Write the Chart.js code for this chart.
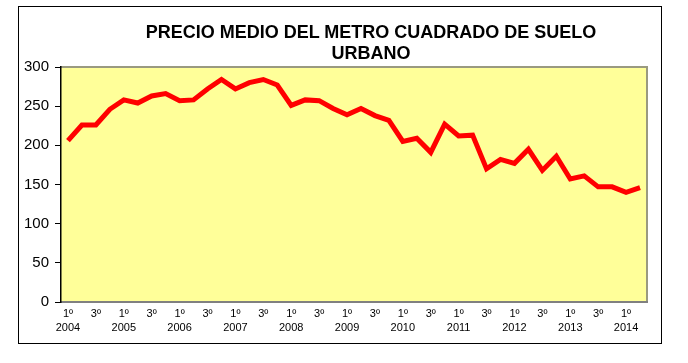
<!DOCTYPE html>
<html>
<head>
<meta charset="utf-8">
<script src="https://cdn.jsdelivr.net/npm/chart.js@4"></script>
<style>
  body { margin: 0; background: #fff; width: 688px; height: 363px; position: relative; overflow: hidden; }
  #frame { position: absolute; left: 18px; top: 6px; width: 642px; height: 336px; border: 1px solid #000; }
  #title { position: absolute; left: 71px; width: 600px; top: 22px; text-align: center; white-space: nowrap;
           font: bold 18px "Liberation Sans", Arial, sans-serif; line-height: 21px; color: #000; }
  canvas { display: block; }
</style>
</head>
<body>
<div id="frame"><canvas id="priceChart" width="642" height="336"></canvas></div>
<div id="title">PRECIO MEDIO DEL METRO CUADRADO DE SUELO<br>URBANO</div>
<script>
// Precio medio del m2 de suelo urbano, trimestral 2004T1 - 2014T2
const years = ['2004', '2005', '2006', '2007', '2008', '2009', '2010', '2011', '2012', '2013', '2014'];
const quarterLabels = ['1º', '', '3º', ''];
const prices = [206, 226, 226, 246, 258, 254, 263, 266, 257, 258,
                272, 284, 272, 280, 284, 277, 251, 258, 257, 247,
                239, 247, 238, 232, 205, 209, 191, 227, 212, 213,
                170, 182, 177, 195, 168, 186, 157, 161, 147, 147,
                140, 146];
const yTicks = [0, 50, 100, 150, 200, 250, 300];

// one label per quarter, year under the 1st quarter
const labels = prices.map(function(v, i) {
    const q = quarterLabels[i % 4];
    if (i % 4 === 0) return [q, years[Math.floor(i / 4)]];
    return q;
});

const plotBg = {
    id: 'plotBg',
    beforeDraw: function(chart) {
        const a = chart.chartArea;
        const ctx = chart.ctx;
        ctx.save();
        ctx.fillStyle = '#FFFF99';
        ctx.fillRect(a.left, a.top, a.right - a.left, a.bottom - a.top);
        ctx.strokeStyle = '#9a9a80';
        ctx.lineWidth = 2;
        ctx.beginPath();
        ctx.moveTo(a.left, a.top);
        ctx.lineTo(a.right, a.top);
        ctx.lineTo(a.right, a.bottom);
        ctx.stroke();
        ctx.restore();
    }
};

const ctx = document.getElementById('priceChart').getContext('2d');
new Chart(ctx, {
    type: 'line',
    data: {
        labels: labels,
        datasets: [{
            data: prices,
            borderColor: '#FF0000',
            borderWidth: 5,
            pointRadius: 0,
            tension: 0,
            fill: false
        }]
    },
    options: {
        responsive: false,
        animation: false,
        layout: { padding: { left: 0, top: 60, right: 14, bottom: 0 } },
        plugins: {
            legend: { display: false },
            tooltip: { enabled: false }
        },
        scales: {
            x: {
                offset: true,
                grid: { display: false, drawTicks: false },
                border: { display: true, color: '#808080', width: 2 },
                ticks: {
                    autoSkip: false,
                    maxRotation: 0,
                    minRotation: 0,
                    padding: 5,
                    color: '#000',
                    font: { family: '"Liberation Sans", Arial, sans-serif', size: 11, lineHeight: 1.3 }
                },
                afterFit: function(scale) { scale.height = 41; }
            },
            y: {
                min: 0,
                max: 300,
                afterBuildTicks: function(scale) {
                    scale.ticks = yTicks.map(function(v) { return { value: v }; });
                },
                grid: {
                    drawOnChartArea: false,
                    drawTicks: true,
                    tickLength: 6,
                    color: '#000'
                },
                border: { display: true, color: '#000', width: 1.5 },
                ticks: {
                    padding: 6,
                    color: '#000',
                    font: { family: '"Liberation Sans", Arial, sans-serif', size: 15 }
                },
                afterFit: function(scale) { scale.width = 42; }
            }
        }
    },
    plugins: [plotBg]
});
</script>
</body>
</html>
